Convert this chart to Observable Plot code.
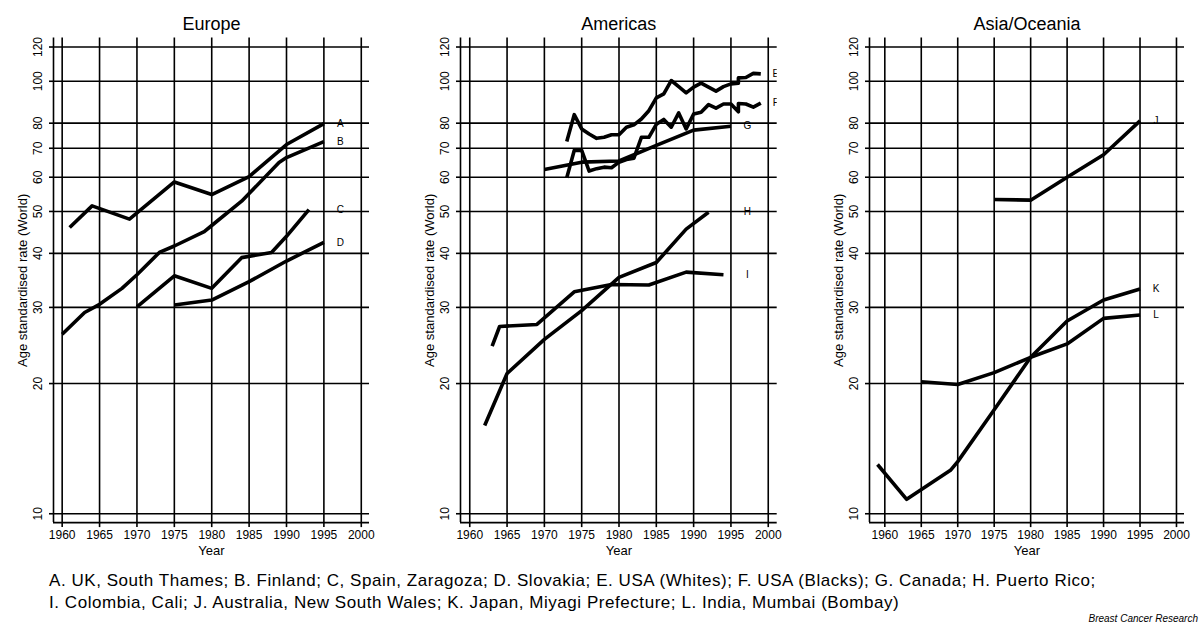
<!DOCTYPE html>
<html>
<head>
<meta charset="utf-8">
<script src="https://cdn.jsdelivr.net/npm/d3@7"></script>
<script src="https://cdn.jsdelivr.net/npm/@observablehq/plot@0.6"></script>
<style>
  html, body { margin: 0; padding: 0; background: #fff; }
  body { font-family: "Liberation Sans", Arial, Helvetica, sans-serif; color: #000; }
  #wrap { position: relative; width: 1200px; height: 628px; overflow: hidden; background: #fff; }
  .panel { position: absolute; top: 0; }
  #caption { position: absolute; left: 49px; top: 570px; font-size: 17px; letter-spacing: 0.55px; line-height: 22px; white-space: nowrap; }
  #credit { position: absolute; right: 2px; top: 613px; font-size: 10px; font-style: italic; white-space: nowrap; }
</style>
</head>
<body>
<div id="wrap">
  <div id="caption">
    <div>A. UK, South Thames; B. Finland; C, Spain, Zaragoza; D. Slovakia; E. USA (Whites); F. USA (Blacks); G. Canada; H. Puerto Rico;</div>
    <div>I. Colombia, Cali; J. Australia, New South Wales; K. Japan, Miyagi Prefecture; L. India, Mumbai (Bombay)</div>
  </div>
  <div id="credit">Breast Cancer Research</div>
</div>
<script>
// ---------------- data ----------------
const panelTitles = ["Europe", "Americas", "Asia/Oceania"];
const panelSeries = [["A", "B", "C", "D"], ["E", "F", "G", "H", "I"], ["J", "K", "L"]];
const yTicks = [10, 20, 30, 40, 50, 60, 70, 80, 100, 120];
const xTicks = [1960, 1965, 1970, 1975, 1980, 1985, 1990, 1995, 2000];
const yLabel = "Age standardised rate (World)";
const xLabel = "Year";

// Europe
const yearsA = [1961, 1964, 1969, 1975, 1980, 1985, 1990, 1995];
const valuesA = [45.9, 51.5, 48.0, 58.5, 54.7, 60.2, 71.4, 79.8];
const yearsB = [1960, 1963, 1965, 1968, 1970, 1973, 1975, 1979, 1980, 1984, 1985, 1989, 1990, 1995];
const valuesB = [26.0, 29.2, 30.5, 33.2, 35.7, 40.2, 41.6, 44.9, 46.4, 52.8, 55.0, 64.9, 66.6, 72.5];
const yearsC = [1970, 1975, 1980, 1984, 1988, 1990, 1993];
const valuesC = [30.1, 35.5, 33.2, 39.1, 40.2, 43.8, 50.5];
const yearsD = [1975, 1980, 1985, 1990, 1995];
const valuesD = [30.4, 31.2, 34.4, 38.4, 42.4];

// Americas
const yearsE = [1973, 1974, 1975, 1976, 1977, 1978, 1979, 1980, 1981, 1982, 1983, 1984, 1985, 1986, 1987, 1988, 1989, 1990, 1991, 1992, 1993, 1994, 1995, 1996, 1996, 1997, 1998, 1999];
const valuesE = [72.6, 83.7, 77.6, 75.5, 73.8, 74.2, 75.2, 75.2, 78.3, 79.3, 81.8, 85.5, 91.5, 93.5, 100.4, 97.2, 94.0, 96.9, 99.0, 96.9, 94.9, 97.2, 98.6, 99.0, 101.8, 102.0, 104.3, 104.0];
const yearsF = [1973, 1974, 1975, 1976, 1977, 1978, 1979, 1980, 1981, 1982, 1983, 1984, 1985, 1986, 1987, 1988, 1989, 1990, 1991, 1992, 1993, 1994, 1995, 1996, 1996, 1997, 1998, 1999];
const valuesF = [59.8, 69.2, 69.2, 62.0, 62.8, 63.3, 63.1, 65.0, 65.9, 66.4, 74.2, 74.2, 79.5, 81.6, 78.3, 84.5, 77.6, 84.0, 84.8, 88.3, 86.7, 88.6, 88.6, 85.0, 88.8, 88.6, 87.1, 89.0];
const yearsG = [1970, 1975, 1980, 1985, 1990, 1995];
const valuesG = [62.5, 65.0, 65.4, 71.1, 77.1, 78.7];
const yearsH = [1962, 1965, 1970, 1975, 1980, 1985, 1989, 1992];
const valuesH = [16.0, 21.1, 25.3, 29.5, 35.2, 38.1, 45.5, 49.8];
const yearsI = [1963, 1964, 1969, 1974, 1979, 1984, 1989, 1994];
const valuesI = [24.4, 27.1, 27.4, 32.6, 33.9, 33.8, 36.2, 35.7];

// Asia/Oceania
const yearsJ = [1975, 1980, 1985, 1990, 1995];
const valuesJ = [53.3, 53.1, 60.0, 67.6, 81.0];
const yearsK = [1959, 1963, 1969, 1970, 1975, 1980, 1985, 1990, 1995];
const valuesK = [13.0, 10.8, 12.6, 13.2, 17.4, 23.0, 27.9, 31.2, 33.1];
const yearsL = [1965, 1970, 1975, 1980, 1985, 1990, 1995];
const valuesL = [20.2, 19.9, 21.2, 23.0, 24.7, 28.3, 28.8];

const seriesTable = {
  A: [yearsA, valuesA], B: [yearsB, valuesB], C: [yearsC, valuesC], D: [yearsD, valuesD],
  E: [yearsE, valuesE], F: [yearsF, valuesF], G: [yearsG, valuesG], H: [yearsH, valuesH], I: [yearsI, valuesI],
  J: [yearsJ, valuesJ], K: [yearsK, valuesK], L: [yearsL, valuesL]
};

// ---------------- layout ----------------
const layouts = [
  {left: 0,   marginLeft: 53, marginRight: 31,   xDomain: [1958.84, 2001.1]},
  {left: 400, marginLeft: 60, marginRight: 23.3, xDomain: [1958.76, 2001.2]},
  {left: 800, marginLeft: 69, marginRight: 16,   xDomain: [1957.9, 2001.1]}
];
const yDomain = [9.54, 125.9];
const font = "'Liberation Sans', Arial, Helvetica, sans-serif";
const wrap = document.getElementById("wrap");

panelTitles.forEach((title, i) => {
  const L = layouts[i];
  const rows = [];
  const labels = [];
  panelSeries[i].forEach(name => {
    const [ys, vs] = seriesTable[name];
    ys.forEach((yr, k) => rows.push({series: name, year: yr, value: vs[k]}));
    const last = ys.length - 1;
    labels.push({series: name, year: Math.max(1997.2, ys[last] + 2.0), value: vs[last]});
  });

  const chart = Plot.plot({
    width: 400,
    height: 570,
    marginLeft: L.marginLeft,
    marginRight: L.marginRight,
    marginTop: 37.5,
    marginBottom: 47.9,
    style: {fontFamily: font, background: "transparent", color: "#000", overflow: "visible"},
    x: {domain: L.xDomain, label: null},
    y: {type: "log", domain: yDomain, label: null},
    marks: [
      Plot.gridY(yTicks, {stroke: "#000", strokeOpacity: 1, strokeWidth: 1.6}),
      Plot.gridX(xTicks, {stroke: "#000", strokeOpacity: 1, strokeWidth: 1.6}),
      Plot.axisY(yTicks, {tickSize: 4, tickFormat: () => "", stroke: "#000", strokeWidth: 1.6, label: null}),
      Plot.axisX(xTicks, {tickSize: 5, tickPadding: 3, tickFormat: d => String(d), fontSize: 12, stroke: "#000", strokeWidth: 1.6, label: null}),
      Plot.ruleX([L.xDomain[0]], {stroke: "#000", strokeWidth: 1.6}),
      Plot.ruleY([yDomain[0]], {stroke: "#000", strokeWidth: 1.6}),
      Plot.text(yTicks, {y: d => d, text: d => String(d), frameAnchor: "left", dx: -15, rotate: -90,
        textAnchor: "middle", lineAnchor: "middle", fontSize: 12, fill: "#000"}),
      Plot.line(rows, {x: "year", y: "value", z: "series", stroke: "#000", strokeWidth: 3.6,
        strokeLinejoin: "round", strokeLinecap: "butt"}),
      Plot.text(labels, {x: "year", y: "value", text: "series", fontSize: 10, fill: "#000", clip: true}),
      Plot.text([title], {frameAnchor: "top", dy: -13.5, fontSize: 18, fill: "#000", lineAnchor: "middle"}),
      Plot.text([yLabel], {frameAnchor: "left", dx: -31, rotate: -90, textAnchor: "middle", lineAnchor: "middle", fontSize: 13, fill: "#000"}),
      Plot.text([xLabel], {frameAnchor: "bottom", dy: 28, fontSize: 13, fill: "#000", lineAnchor: "middle"})
    ]
  });
  chart.classList.add("panel");
  chart.style.left = L.left + "px";
  wrap.appendChild(chart);
});
</script>
</body>
</html>
